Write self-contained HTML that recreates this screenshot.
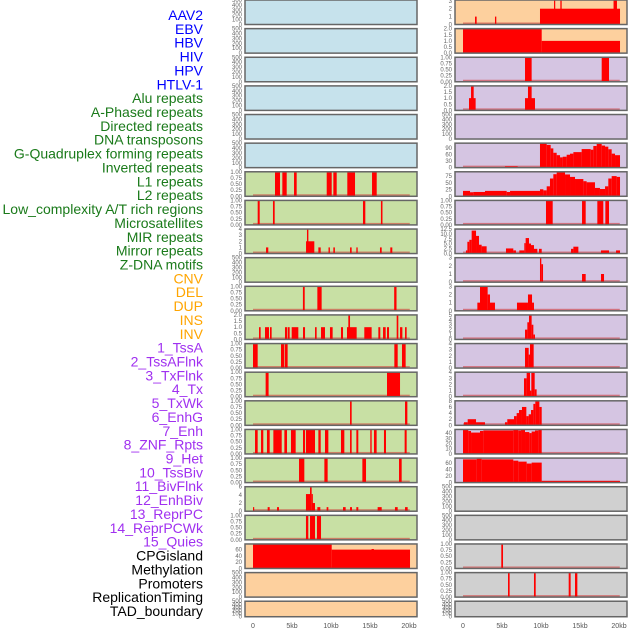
<!DOCTYPE html>
<html><head><meta charset="utf-8"><style>
html,body{margin:0;padding:0;background:#fff;}
svg{display:block;font-family:"Liberation Sans",sans-serif;}
</style></head><body>
<svg id="chart" width="630" height="630" viewBox="0 0 630 630"></svg>
<script>
// ---- data ----
const labels = ["AAV2","EBV","HBV","HIV","HPV","HTLV-1","Alu repeats","A-Phased repeats","Directed repeats","DNA transposons","G-Quadruplex forming repeats","Inverted repeats","L1 repeats","L2 repeats","Low_complexity A/T rich regions","Microsatellites","MIR repeats","Mirror repeats","Z-DNA motifs","CNV","DEL","DUP","INS","INV","1_TssA","2_TssAFlnk","3_TxFlnk","4_Tx","5_TxWk","6_EnhG","7_Enh","8_ZNF_Rpts","9_Het","10_TssBiv","11_BivFlnk","12_EnhBiv","13_ReprPC","14_ReprPCWk","15_Quies","CPGisland","Methylation","Promoters","ReplicationTiming","TAD_boundary"];
const groups = ["v","v","v","v","v","v","r","r","r","r","r","r","r","r","r","r","r","r","r","s","s","s","s","s","c","c","c","c","c","c","c","c","c","c","c","c","c","c","c","o","o","o","o","o"];
const T500 = ["0","100","200","300","400","500"];
const T1 = ["0.00","0.25","0.50","0.75","1.00"];
const T2 = ["0.0","0.5","1.0","1.5","2.0"];
const T3 = ["0","1","2","3"];
const T4 = ["0","1","2","3","4"];
const T5 = ["0","1","2","3","4","5"];
const T6 = ["0","2","4","6"];
const T8 = ["0","2","4","6","8"];
const T60 = ["0","20","40","60"];
const T90 = ["0","30","60","90"];
const T75 = ["0","25","50","75"];
const T125 = ["0.0","2.5","5.0","7.5","10.0","12.5"];
const T40 = ["0","10","20","30","40"];
const ticks = [T500,T500,T500,T500,T500,T500,T1,T1,T4,T500,T1,T2,T1,T1,T1,T1,T1,T6,T1,T60,T500,T500,
  T3,T2,T1,T2,T500,T90,T75,T1,T125,T3,T3,T5,T4,T4,T8,T40,T60,T500,T500,T1,T1,T500];
const ymax = [500,500,500,500,500,500,1,1,4,500,1,2,1,1,1,1,1,6,1,78,500,500,
  3.1,2,1,2,500,112,91,1,12.5,3,3,5,4,4,8,47,76,500,500,1,1,500];
// segments: [startKb, endKb, value]
const segs = [[],[],[],[],[],[],
 [[2.82,3.46,1],[3.76,4.32,1],[5.26,5.6,1],[9.45,10.09,1],[10.3,10.73,1],[12.09,13.08,1],[15.26,15.86,1]],
 [[0.6,0.86,1],[2.56,2.78,1],[14.1,14.4,1],[16.4,16.6,1]],
 [[1.67,1.96,1],[6.8,7.86,2],[6.92,7.1,4],[8.38,8.68,1],[9.68,9.86,1],[10.3,10.5,1],[12.44,12.65,1],[13.25,13.42,1],[16.28,16.5,1],[17.6,17.86,1]],
 [],
 [[6.4,6.63,1],[8.25,8.8,1],[18.1,18.4,1]],
 [[0.77,0.98,1],[1.54,2.05,1],[2.18,2.39,1],[4.1,4.36,1],[4.44,4.7,1],[4.96,5.81,1],[6.41,6.67,1],[7.95,8.16,1],[8.72,9.23,1],[9.87,10.21,1],[11.28,11.54,1],[12.05,13.29,1],[12.22,12.44,2],[14.27,15.21,1],[16.07,16.32,1],[16.67,17.01,1],[17.18,17.44,1],[18.42,18.63,2],[18.85,19.15,1],[19.49,19.7,1]],
 [[0,0.6,1],[3.59,4.02,1],[4.1,4.44,1],[18.12,18.55,1],[19.1,19.57,1]],
 [[1.62,2.0,1],[17.18,18.85,1]],
 [[12.44,12.65,1],[19.49,19.79,1]],
 [[0.26,0.6,1],[1.03,1.32,1],[1.79,2.14,1],[2.61,3.68,1],[4.02,4.36,1],[4.87,5.47,1],[6.41,6.67,1],[6.79,7.95,1],[8.38,8.68,1],[9.23,9.66,1],[11.28,11.71,1],[12.44,12.65,1],[13.25,13.5,1],[15.04,15.21,1],[15.51,15.85,1],[16.79,17.05,1],[19.44,19.7,1]],
 [[5.9,6.58,1],[9.15,9.57,1],[14.02,14.49,1],[18.72,19.06,1]],
 [[0,0.09,1],[1.88,2.14,1],[3.08,3.33,1],[6.79,7.31,4.2],[7.31,7.52,6],[7.52,7.6,4.2],[7.6,7.95,2],[8.25,8.63,1],[9.44,9.66,1],[11.54,11.88,1],[12.44,12.69,1],[13.25,13.5,1],[15.98,16.5,1],[18.2,18.55,1],[19.49,19.83,1]],
 [[6.79,7.09,1],[7.31,7.95,1],[8.2,8.72,1]],
 [[0,10.09,85],[10.09,20.13,60],[15.2,15.5,62]],
 [],[],
 [[1.54,1.75,1],[4.1,4.27,1],[9.87,20.13,2],[11.67,11.8,3.2],[12.48,12.65,3.2],[19.3,19.74,3.2]],
 [[0,10.09,2],[10.09,20.13,1]],
 [[7.95,8.8,1],[17.78,18.72,1]],
 [[0.77,1.62,1],[1.03,1.37,2],[7.95,9.23,1],[8.33,8.8,2]],
 [],
 [[5.38,7.01,6],[9.87,10.73,112],[10.73,11.24,104],[11.24,11.58,88],[11.58,12.01,68],[12.01,12.44,57],[12.44,12.78,47],[12.78,13.29,50],[13.29,13.72,59],[13.72,14.15,64],[14.15,15.21,71],[15.21,16.37,85],[16.37,16.71,82],[16.71,17.14,99],[17.14,17.78,109],[17.78,18.21,101],[18.21,18.63,96],[18.63,19.06,84],[19.06,19.49,64],[19.49,20.13,57]],
 [[0,0.9,20],[0.9,1.32,15],[1.32,2.82,16],[2.82,5.6,20],[5.6,6.03,16],[6.03,9.87,20],[9.87,10.3,26],[10.3,10.73,22],[10.73,11.15,37],[11.15,11.58,66],[11.58,12.01,82],[12.01,13.08,89],[13.08,13.72,81],[13.72,14.36,72],[14.36,15.43,64],[15.43,15.85,56],[15.85,16.92,52],[16.92,17.56,31],[17.56,18.21,27],[18.21,18.63,37],[18.63,19.06,66],[19.06,19.7,75],[19.7,20.13,72]],
 [[10.64,11.5,1],[15.26,15.73,1],[17.22,17.99,1],[18.25,18.72,1]],
 [[0.38,0.56,1.6],[0.56,0.81,6],[0.81,1.11,7],[1.11,1.67,11.7],[1.67,2.05,9],[2.05,2.39,4.5],[2.39,3.03,3.7],[5.51,6.45,2.6],[6.45,6.79,1.6],[7.22,7.86,1.6],[7.86,8.03,5.3],[8.03,8.46,7.9],[8.46,8.72,5.1],[8.72,9.1,4.3],[9.1,9.53,2.4],[9.74,10.09,2.4],[13.85,14.15,2.4],[14.15,14.79,3.5],[17.69,18.72,1.6],[19.62,20.13,1.6]],
 [[9.87,10.04,3],[10.04,10.26,2.2],[15.26,15.73,1],[17.69,18.08,1]],
 [[1.84,2.18,1],[2.18,3.16,3],[3.16,3.46,2],[3.46,4.1,1],[6.92,8.33,1],[8.33,8.85,2],[8.85,9.1,1]],
 [[7.95,8.25,2],[8.25,8.46,3.5],[8.46,8.8,5],[8.8,9.02,3],[9.02,9.23,1]],
 [[7.95,8.42,3.3],[8.42,8.59,2.2],[8.59,9.06,4]],
 [[7.82,8.16,3],[8.16,8.59,4],[8.59,8.76,1],[8.76,9.19,4],[9.19,9.44,1.2]],
 [[0.13,0.6,1],[0.6,1.67,2],[1.67,2.82,1],[5.38,5.68,1],[5.68,6.54,2],[6.54,6.88,3],[6.88,7.18,4],[7.18,7.56,5],[7.56,8.12,6],[8.12,8.42,3],[8.42,8.72,3.6],[8.72,9.02,5],[9.02,9.27,7],[9.27,9.79,8],[9.79,10.09,6]],
 [[0,0.68,47],[0.68,1.03,44],[1.03,2.18,41],[2.18,2.61,44],[2.61,6.45,45],[6.45,7.09,46],[7.09,7.44,45],[7.44,7.95,46],[7.95,8.5,42],[8.5,8.8,40],[8.8,9.23,43],[9.23,9.66,45],[9.66,10.09,47]],
 [[0,1.75,72],[1.75,2.39,74],[2.39,6.45,72],[6.45,7.09,68],[7.09,8.16,65],[8.16,8.8,59],[8.8,10.09,62],[10.09,20.13,5]],
 [],[],
 [[4.91,5.13,1]],
 [[5.77,5.98,1],[9.1,9.32,1],[13.55,13.8,1],[14.36,14.66,1]],
 []
];
const xTickVals = [0,5,10,15,20];
const xTickLabels = ["0","5kb","10kb","15kb","20kb"];

// ---- drawing ----
const NS="http://www.w3.org/2000/svg";
const svg=document.getElementById('chart');
const fills={v:"#c6e2ec",r:"#c8e0a4",s:"#fdd09e",c:"#d5c5e2",o:"#d0d0d0"};
const tcol={v:"#0000ff",r:"#1a7a1a",s:"#ffa500",c:"#a030f0",o:"#000000"};
const colX=[245,455], PW=172, KB0=8, PXKB=7.8, PITCH=28.63;
function mk(tag,attrs){const e=document.createElementNS(NS,tag);for(const k in attrs)e.setAttribute(k,attrs[k]);svg.appendChild(e);return e;}
function xScale(kb,col){return colX[col]+KB0+kb*PXKB;}
function rowGeom(row){const top=row*PITCH;const h=row===21?15.5:24.5;return {top,h};}
const defs=document.createElementNS(NS,'defs');svg.appendChild(defs);

labels.forEach((lab,i)=>{
  const t=mk('text',{x:203,y:15+i*13.86+5,'text-anchor':'end','font-size':14,fill:tcol[groups[i]]});
  t.textContent=lab;
  
  
});

labels.forEach((lab,i)=>{
  const col=i<22?0:1,row=i%22;
  const g=rowGeom(row);const x0=colX[col];
  const yS=v=>g.top+g.h-Math.min(v,ymax[i])/ymax[i]*g.h;
  const bg=mk('rect',{x:x0,y:g.top,width:PW,height:g.h,fill:fills[groups[i]]});
  
  
  const tk=ticks[i];const tmax=parseFloat(tk[tk.length-1]);
  tk.forEach(s=>{
    const v=parseFloat(s);
    const tt=mk('text',{x:x0-3,y:yS(v*ymax[i]/ (ymax[i]===500?500:ymax[i]) )+2,'text-anchor':'end','font-size':6,fill:'#666'});
    tt.textContent=s;
    
    
  });
  if(segs[i].length){
    const bl=mk('rect',{x:xScale(0,col),y:g.top+g.h-2,width:20.1*PXKB,height:1.5,fill:'#d03030',opacity:0.55});
    
    
  }
  segs[i].forEach(s=>{
    const xa=xScale(s[0],col),xb=xScale(s[1],col);const y=yS(s[2]);
    const r=mk('rect',{x:xa,y:y,width:Math.max(xb-xa,1.2),height:g.top+g.h-y,fill:'#ff0000'});
    
    
  });
  const fr=mk('rect',{x:x0,y:g.top,width:PW,height:g.h,fill:'none',stroke:'#666',"stroke-width":1.5});
  
  
});

[0,1].forEach(col=>{
  xTickVals.forEach((v,j)=>{
    const t=mk('text',{x:xScale(v,col),y:628,'text-anchor':'middle','font-size':7,fill:'#555'});
    t.textContent=xTickLabels[j];
    
    
  });
});
</script>
</body></html>
